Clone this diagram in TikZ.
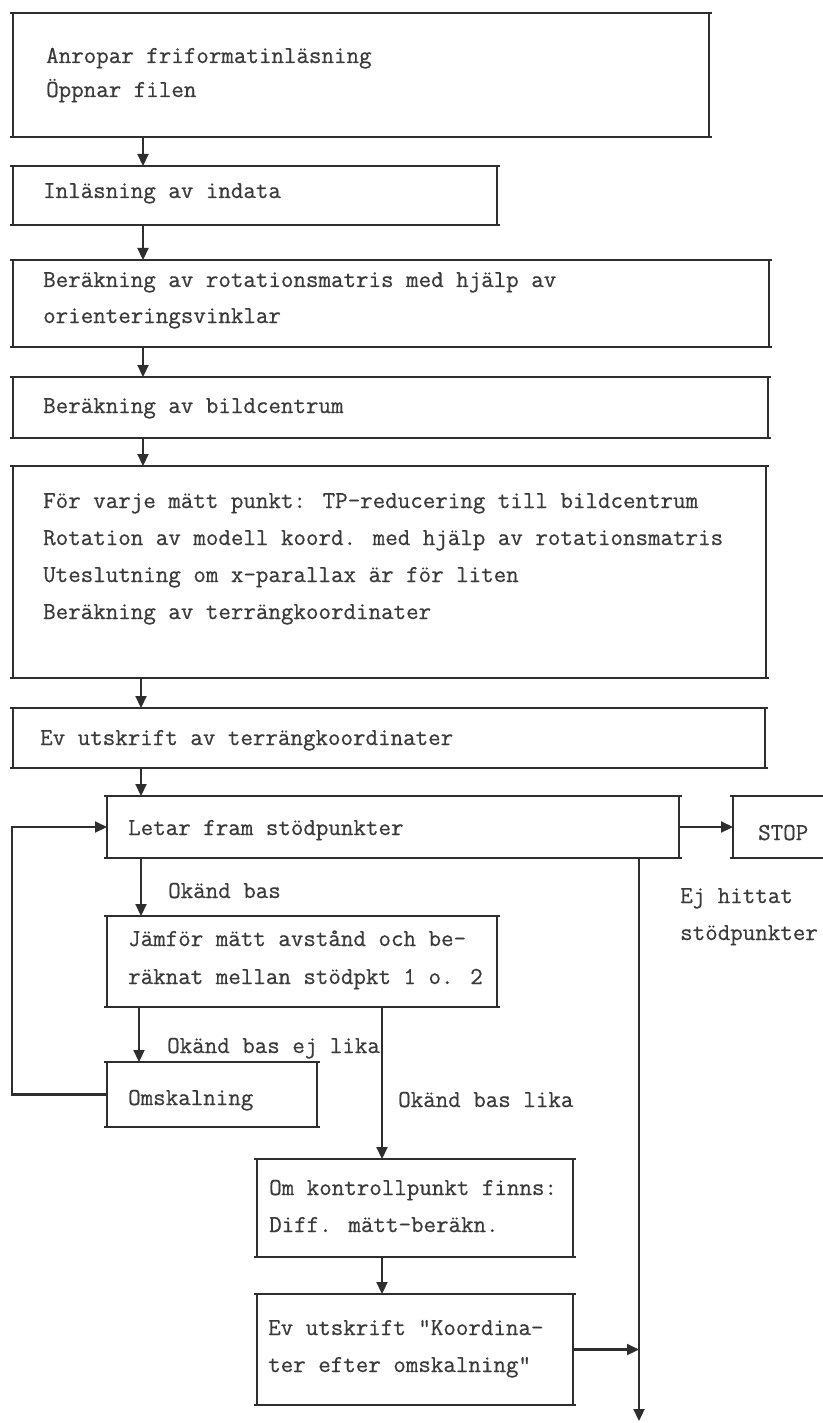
\documentclass[tikz,border=0pt]{standalone}
\usepackage{fontspec}
\newfontfamily\tw[FakeBold=0.6]{Latin Modern Mono}
\usetikzlibrary{arrows.meta,calc}
\definecolor{ink}{HTML}{2E2E2E}
\definecolor{txt}{HTML}{3A3A3A}
\begin{document}
\begin{tikzpicture}[x=1pt,y=-1pt,
  box/.style={draw=ink,line width=2.3pt,anchor=north west,inner sep=0pt,outer sep=0pt},
  lbl/.style={anchor=base west,inner sep=0pt,text=txt,font=\tw\fontsize{24.3}{36}\selectfont},
  arr/.style={draw=ink,line width=2.2pt,-{Triangle[length=12pt,width=11pt]}},
  ln/.style={draw=ink,line width=2.3pt}]
\useasboundingbox (0,0) rectangle (822,1423);
\fill[white] (0,0) rectangle (822,1423);
% boxes
\node[box,minimum width=696pt,minimum height=124pt] (b1) at (13,13) {};
\node[box,minimum width=484pt,minimum height=59pt] (b2) at (13,166) {};
\node[box,minimum width=756pt,minimum height=87pt] (b3) at (13,260) {};
\node[box,minimum width=755pt,minimum height=61pt] (b4) at (13,377) {};
\node[box,minimum width=753pt,minimum height=212pt] (b5) at (13,466) {};
\node[box,minimum width=752pt,minimum height=60pt] (b6) at (13,708) {};
\node[box,minimum width=572pt,minimum height=62pt] (b7) at (107,796) {};
\node[box,minimum width=120pt,minimum height=62pt] (stop) at (733,796) {};
\node[box,minimum width=390pt,minimum height=91pt] (b8) at (107,916) {};
\node[box,minimum width=210pt,minimum height=65pt] (omsk) at (107,1062) {};
\node[box,minimum width=316pt,minimum height=98pt] (b10) at (257,1159) {};
\node[box,minimum width=316pt,minimum height=111pt] (b11) at (257,1294) {};
% small overshoot of the hand-drawn corners
\foreach \n in {b1,b2,b3,b4,b5,b6,b7,b8,omsk,b10,b11}{
  \draw[ln,line width=1.6pt] ([xshift=-3pt]\n.north west) -- ([xshift=3pt]\n.north east)
    ([xshift=-3pt]\n.south west) -- ([xshift=3pt]\n.south east);
}
\draw[ln,line width=1.6pt] ([xshift=-3pt]stop.north west) -- (stop.north west)
  ([xshift=-3pt]stop.south west) -- (stop.south west);
% texts
\node[lbl] (t1a) at (46,63) {Anropar friformatinläsning};
\node[lbl] (t1b) at (46,97) {Öppnar filen};
\node[lbl] (t2) at (43,198) {Inläsning av indata};
\node[lbl] (t3a) at (43,287) {Beräkning av rotationsmatris med hjälp av};
\node[lbl] (t3b) at (43,323) {orienteringsvinklar};
\node[lbl] (t4) at (43,413) {Beräkning av bildcentrum};
\node[lbl] (t5a) at (43,508) {För varje mätt punkt: TP-reducering till bildcentrum};
\node[lbl] (t5b) at (43,545) {Rotation av modell koord. med hjälp av rotationsmatris};
\node[lbl] (t5c) at (43,582) {Uteslutning om x-parallax är för liten};
\node[lbl] (t5d) at (43,619) {Beräkning av terrängkoordinater};
\node[lbl] (t6) at (40,745) {Ev utskrift av terrängkoordinater};
\node[lbl] (t7) at (128,835) {Letar fram stödpunkter};
\node[lbl] (tstop) at (758,840) {STOP};
\node[lbl] (l1) at (168,898) {Okänd bas};
\node[lbl] (ej1) at (680,903) {Ej hittat};
\node[lbl] (ej2) at (680,940) {stödpunkter};
\node[lbl] (t8a) at (128,946) {Jämför mätt avstånd och be-};
\node[lbl] (t8b) at (128,984) {räknat mellan stödpkt 1 o. 2};
\node[lbl] (l2) at (167,1053) {Okänd bas ej lika};
\node[lbl] (tom) at (128,1105) {Omskalning};
\node[lbl] (l3) at (398,1107) {Okänd bas lika};
\node[lbl] (t10a) at (269,1195) {Om kontrollpunkt finns:};
\node[lbl] (t10b) at (269,1232) {Diff. mätt-beräkn.};
\node[lbl] (t11a) at (268,1335) {Ev utskrift "Koordina-};
\node[lbl] (t11b) at (268,1372) {ter efter omskalning"};
% connectors
\coordinate (mx) at (143,0);
\coordinate (mx2) at (141,0);
\coordinate (mx3) at (139,0);
\coordinate (rx) at (382,0);
\coordinate (vx) at (639,0);
\coordinate (lx) at (12,0);
\coordinate (vend) at (639,1421);
\draw[arr] (b1.south -| mx) -- (b2.north -| mx);
\draw[arr] (b2.south -| mx) -- (b3.north -| mx);
\draw[arr] (b3.south -| mx) -- (b4.north -| mx);
\draw[arr] (b4.south -| mx) -- (b5.north -| mx);
\draw[arr] (b5.south -| mx2) -- (b6.north -| mx2);
\draw[arr] (b6.south -| mx2) -- (b7.north -| mx2);
\draw[arr] (b7.south -| mx2) -- (b8.north -| mx2);
\draw[arr] (b8.south -| mx3) -- (omsk.north -| mx3);
\draw[arr] (b8.south -| rx) -- (b10.north -| rx);
\draw[arr] (b10.south -| rx) -- (b11.north -| rx);
\draw[arr] (b7.east) -- (stop.west);
\draw[arr] (b7.south -| vx) -- (vend);
\draw[arr] (b11.east) -- (b11.east -| vx);
\draw[arr] (omsk.west) -- (omsk.west -| lx) -- (b7.west -| lx) -- (b7.west);
\end{tikzpicture}
\end{document}
